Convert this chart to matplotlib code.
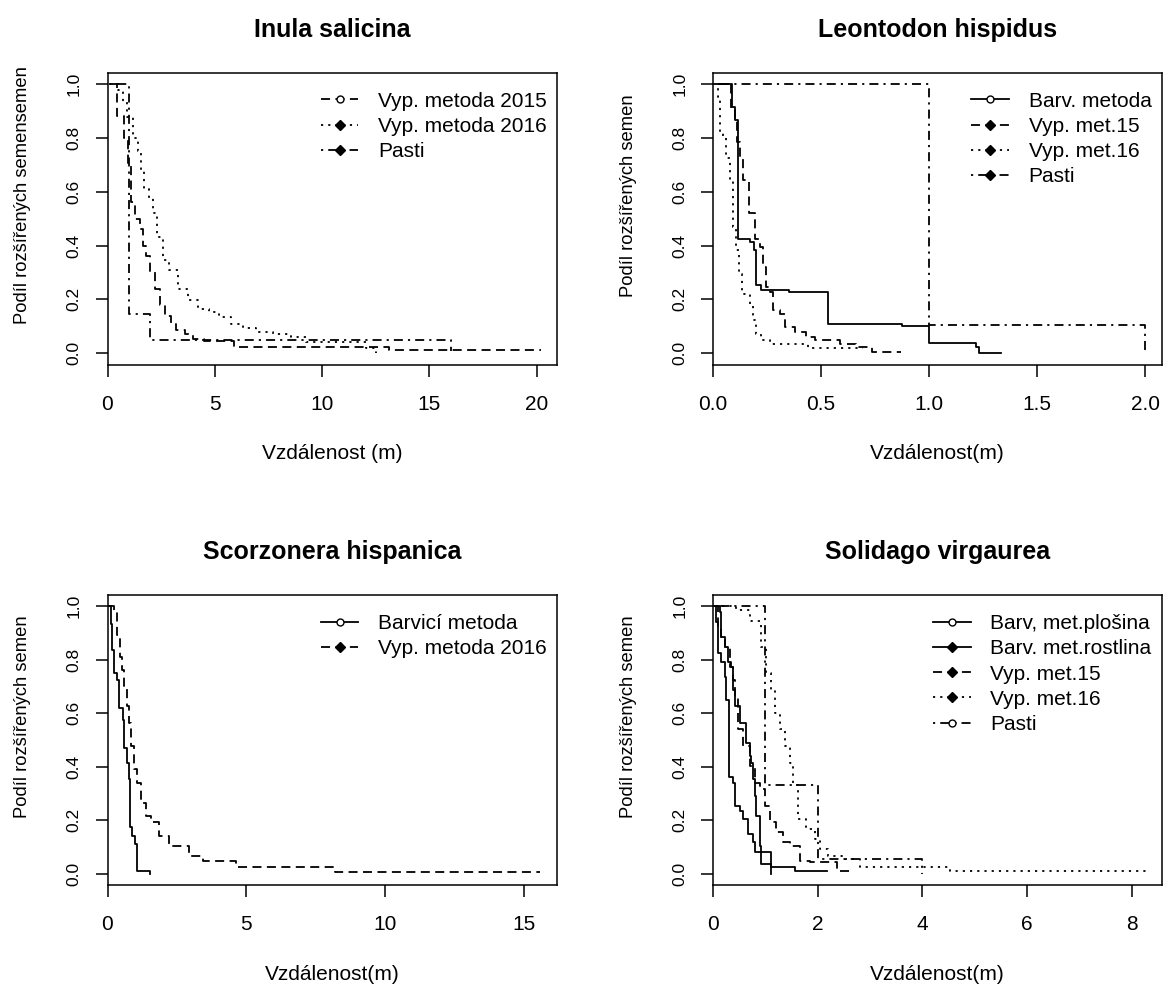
import matplotlib
matplotlib.use("Agg")
import matplotlib.pyplot as plt
from matplotlib.lines import Line2D

plt.rcParams['font.family'] = ['Liberation Sans', 'DejaVu Sans']
plt.rcParams['font.size'] = 15

# ---- Inula salicina ----
inula_2015_x = [0.2, 0.45, 0.75, 0.95, 1.1, 1.3, 1.5, 1.65, 1.8, 2.0, 2.2, 2.45, 2.7, 2.95,
                3.2, 3.6, 4.0, 4.5, 5.9, 13.1, 20.2]
inula_2015_y = [1.0, 0.88, 0.80, 0.70, 0.56, 0.50, 0.46, 0.40, 0.36, 0.30, 0.24, 0.18, 0.14,
                0.11, 0.085, 0.07, 0.052, 0.045, 0.023, 0.012, 0.012]
inula_2016_x = [0.08, 0.47, 0.70, 0.93, 1.17, 1.40, 1.56, 1.71, 1.95, 2.10, 2.33, 2.57, 2.88,
                3.27, 3.73, 4.20, 4.75, 5.21, 5.76, 6.30, 6.93, 7.70, 8.56, 9.26, 12.06, 12.53]
inula_2016_y = [1.0, 0.978, 0.934, 0.878, 0.80, 0.75, 0.68, 0.61, 0.575, 0.52, 0.43, 0.346,
                0.31, 0.24, 0.197, 0.166, 0.154, 0.135, 0.11, 0.092, 0.079, 0.073, 0.061,
                0.042, 0.021, 0.0]
inula_pasti_x = [0.1, 1.0, 2.0, 16.0]
inula_pasti_y = [1.0, 0.145, 0.05, 0.01]

# ---- Leontodon hispidus ----
leon_barv_x = [0.03, 0.09, 0.10, 0.116, 0.17, 0.188, 0.197, 0.224, 0.352, 0.532, 0.876, 1.0,
               1.215, 1.23, 1.33]
leon_barv_y = [1.0, 0.916, 0.866, 0.426, 0.414, 0.383, 0.253, 0.234, 0.228, 0.11, 0.102,
               0.038, 0.024, 0.002, 0.002]
leon_15_x = [0.02, 0.085, 0.1, 0.111, 0.123, 0.139, 0.167, 0.193, 0.216, 0.231, 0.247, 0.262,
             0.278, 0.308, 0.332, 0.378, 0.432, 0.47, 0.586, 0.663, 0.733, 0.871]
leon_15_y = [1.0, 0.909, 0.866, 0.786, 0.724, 0.643, 0.519, 0.426, 0.395, 0.32, 0.246, 0.228,
             0.16, 0.147, 0.098, 0.079, 0.06, 0.048, 0.036, 0.023, 0.005, 0.005]
leon_16_x = [0.008, 0.023, 0.034, 0.046, 0.062, 0.080, 0.093, 0.105, 0.12, 0.136, 0.17, 0.185,
             0.2, 0.224, 0.262, 0.44, 0.694]
leon_16_y = [1.0, 0.953, 0.817, 0.804, 0.724, 0.643, 0.47, 0.383, 0.296, 0.221, 0.184, 0.122,
             0.073, 0.048, 0.036, 0.021, 0.021]
leon_pasti_x = [0.0, 1.0, 2.0]
leon_pasti_y = [1.0, 0.104, 0.0]

# ---- Scorzonera hispanica ----
scor_barv_x = [0.0, 0.12, 0.18, 0.24, 0.36, 0.42, 0.57, 0.60, 0.69, 0.76, 0.82, 0.90, 1.0,
               1.06, 1.53]
scor_barv_y = [1.0, 0.935, 0.836, 0.749, 0.725, 0.62, 0.576, 0.471, 0.415, 0.353, 0.173,
               0.142, 0.111, 0.012, 0.0]
scor_16_x = [0.06, 0.24, 0.33, 0.36, 0.45, 0.54, 0.60, 0.69, 0.76, 0.84, 0.96, 1.08, 1.21,
             1.39, 1.57, 1.87, 2.23, 2.95, 3.43, 4.64, 8.19, 15.6]
scor_16_y = [1.0, 0.98, 0.935, 0.892, 0.812, 0.762, 0.70, 0.626, 0.564, 0.477, 0.39, 0.34,
             0.266, 0.217, 0.192, 0.142, 0.105, 0.068, 0.049, 0.024, 0.008, 0.008]

# ---- Solidago virgaurea ----
soli_plos_x = [0.033, 0.065, 0.096, 0.16, 0.224, 0.255, 0.306, 0.383, 0.415, 0.51, 0.574,
               0.67, 0.765, 0.797, 0.925, 1.116]
soli_plos_y = [1.0, 0.94, 0.824, 0.793, 0.737, 0.65, 0.36, 0.34, 0.254, 0.235, 0.204, 0.148,
               0.117, 0.08, 0.037, 0.0]
soli_rost_x = [0.033, 0.128, 0.16, 0.224, 0.287, 0.35, 0.383, 0.415, 0.51, 0.638, 0.7, 0.733,
               0.765, 0.797, 0.83, 0.893, 0.925, 1.116, 1.56, 2.17]
soli_rost_y = [1.0, 0.978, 0.886, 0.848, 0.793, 0.774, 0.688, 0.626, 0.564, 0.49, 0.44, 0.415,
               0.353, 0.291, 0.217, 0.105, 0.08, 0.025, 0.009, 0.009]
soli_15_x = [0.033, 0.096, 0.16, 0.224, 0.319, 0.383, 0.415, 0.478, 0.574, 0.7, 0.797, 0.893,
             0.988, 1.084, 1.21, 1.338, 1.466, 1.657, 1.848, 2.36, 2.68]
soli_15_y = [1.0, 0.92, 0.886, 0.848, 0.774, 0.725, 0.663, 0.54, 0.477, 0.403, 0.34, 0.316,
             0.254, 0.192, 0.155, 0.117, 0.105, 0.049, 0.043, 0.012, 0.012]
soli_16_x = [0.033, 0.446, 0.70, 0.925, 1.02, 1.115, 1.18, 1.275, 1.37, 1.466, 1.53, 1.625,
             1.785, 1.944, 2.04, 2.2, 2.52, 2.81, 4.53, 8.29]
soli_16_y = [1.0, 0.985, 0.946, 0.848, 0.749, 0.688, 0.6, 0.54, 0.477, 0.415, 0.33, 0.205,
             0.168, 0.13, 0.093, 0.068, 0.056, 0.025, 0.009, 0.0]
soli_pasti_x = [0.0, 1.0, 2.0, 4.0]
soli_pasti_y = [1.0, 0.333, 0.055, 0.0]

LW = 1.3
SOLID = '-'
DASHED = (0, (5, 3))
DOTTED = (0, (1.2, 2.8))
DOTDASH = (0, (1.2, 2.8, 5, 2.8))


def handle(ls, filled):
    if filled:
        return Line2D([], [], color='black', lw=LW, ls=ls, marker='D', ms=5,
                      mfc='black', mec='black')
    return Line2D([], [], color='black', lw=LW, ls=ls, marker='o', ms=5,
                  mfc='white', mec='black', mew=1)


def panel(rect, title, xlim, xticks, xticklabels, xlabel, ylabel, series, legend_items):
    ax = fig.add_axes(rect)
    for xs, ys, ls in series:
        ax.step(xs, ys, where='post', color='black', lw=LW, ls=ls)
    ax.set_xlim(*xlim)
    ax.set_ylim(-0.042, 1.042)
    ax.set_xticks(xticks)
    ax.set_xticklabels(xticklabels)
    ax.set_yticks([0, 0.2, 0.4, 0.6, 0.8, 1.0])
    ax.set_yticklabels(['0.0', '0.2', '0.4', '0.6', '0.8', '1.0'])
    ax.tick_params(direction='out', length=8.6, width=1.1)
    ax.tick_params(axis='x', pad=13, labelsize=15)
    ax.tick_params(axis='y', pad=10, labelsize=12.5, labelrotation=90)
    for lab in ax.get_yticklabels():
        lab.set_va('center')
    for sp in ax.spines.values():
        sp.set_linewidth(1.1)
    ax.set_title(title, fontsize=18, fontweight='bold', pad=26)
    ax.set_xlabel(xlabel, fontsize=15, labelpad=22)
    ax.set_ylabel(ylabel, fontsize=13.2)
    w_px = rect[2] * 1163
    h_px = rect[3] * 990
    # label sits ~75 px left of the box, a bit above the middle
    ax.yaxis.set_label_coords(-76 / w_px, 0.58)
    handles = [handle(ls, f) for _, ls, f in legend_items]
    labels = [lab for lab, _, _ in legend_items]
    ax.legend(handles, labels, loc='upper right', frameon=False, fontsize=15,
              bbox_to_anchor=(1 - 10 / w_px, 1 - 19 / h_px), borderpad=0,
              borderaxespad=0, handlelength=1.8, handletextpad=0.95, labelspacing=0.3)
    return ax


fig = plt.figure(figsize=(11.63, 9.9), dpi=100)

top_b, top_h = 1 - 364.5 / 990, (364.5 - 72.7) / 990
bot_b, bot_h = 1 - 885 / 990, (885 - 595) / 990
left_l, left_w = 107.5 / 1163, (557 - 107.5) / 1163
right_l, right_w = 713 / 1163, (1161.5 - 713) / 1163

panel([left_l, top_b, left_w, top_h], 'Inula salicina', (0, 20.95),
      [0, 5, 10, 15, 20], ['0', '5', '10', '15', '20'], 'Vzdálenost (m)',
      'Podíl rozšířených semensemen',
      [(inula_2015_x, inula_2015_y, DASHED),
       (inula_2016_x, inula_2016_y, DOTTED),
       (inula_pasti_x, inula_pasti_y, DOTDASH)],
      [('Vyp. metoda 2015', DASHED, False),
       ('Vyp. metoda 2016', DOTTED, True),
       ('Pasti', DOTDASH, True)])

panel([right_l, top_b, right_w, top_h], 'Leontodon hispidus', (0, 2.074),
      [0, 0.5, 1.0, 1.5, 2.0], ['0.0', '0.5', '1.0', '1.5', '2.0'], 'Vzdálenost(m)',
      'Podíl rozšířených semen',
      [(leon_barv_x, leon_barv_y, SOLID),
       (leon_15_x, leon_15_y, DASHED),
       (leon_16_x, leon_16_y, DOTTED),
       (leon_pasti_x, leon_pasti_y, DOTDASH)],
      [('Barv. metoda', SOLID, False),
       ('Vyp. met.15', DASHED, True),
       ('Vyp. met.16', DOTTED, True),
       ('Pasti', DOTDASH, True)])

panel([left_l, bot_b, left_w, bot_h], 'Scorzonera hispanica', (0, 16.2),
      [0, 5, 10, 15], ['0', '5', '10', '15'], 'Vzdálenost(m)',
      'Podíl rozšířených semen',
      [(scor_barv_x, scor_barv_y, SOLID),
       (scor_16_x, scor_16_y, DASHED)],
      [('Barvicí metoda', SOLID, False),
       ('Vyp. metoda 2016', DASHED, True)])

panel([right_l, bot_b, right_w, bot_h], 'Solidago virgaurea', (0, 8.57),
      [0, 2, 4, 6, 8], ['0', '2', '4', '6', '8'], 'Vzdálenost(m)',
      'Podíl rozšířených semen',
      [(soli_plos_x, soli_plos_y, SOLID),
       (soli_rost_x, soli_rost_y, SOLID),
       (soli_15_x, soli_15_y, DASHED),
       (soli_16_x, soli_16_y, DOTTED),
       (soli_pasti_x, soli_pasti_y, DOTDASH)],
      [('Barv, met.plošina', SOLID, False),
       ('Barv. met.rostlina', SOLID, True),
       ('Vyp. met.15', DASHED, True),
       ('Vyp. met.16', DOTTED, True),
       ('Pasti', DOTDASH, False)])

fig.savefig('out.png', dpi=100)
